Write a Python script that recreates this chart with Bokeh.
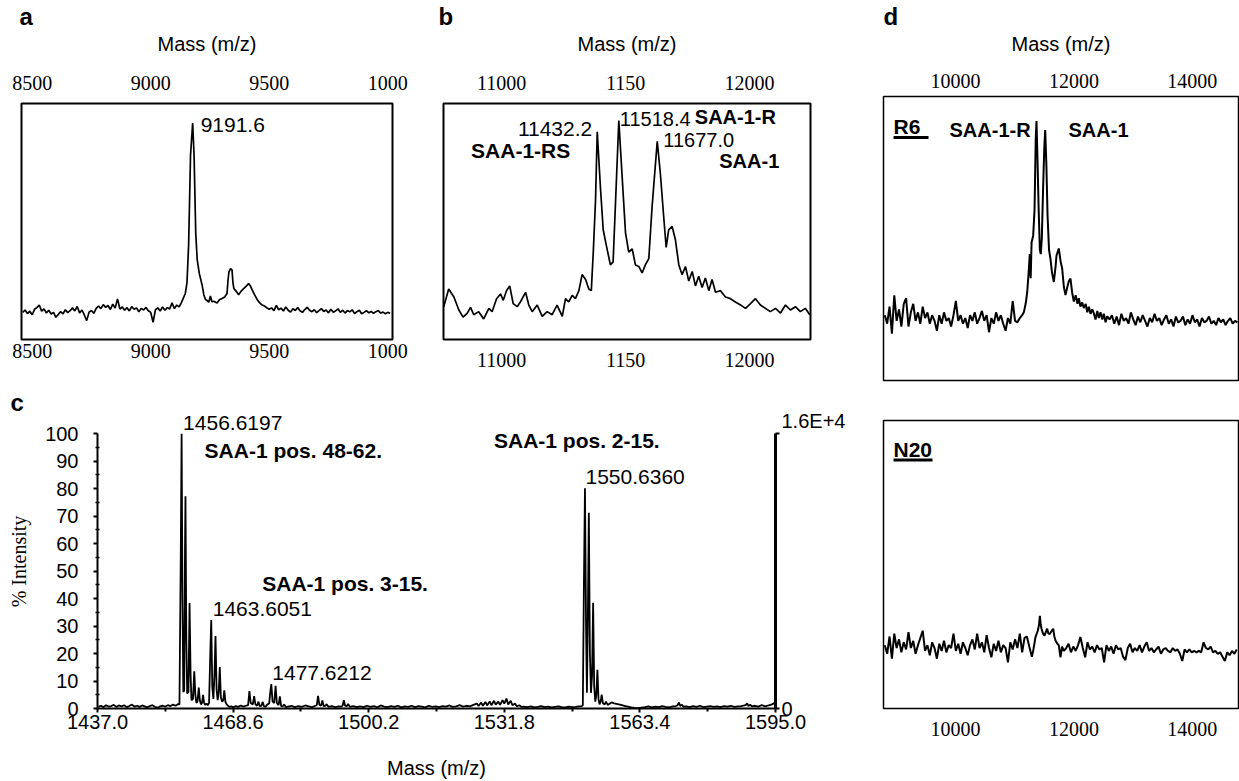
from bokeh.plotting import figure
from bokeh.models import Range1d, LinearAxis, FixedTicker, Label, BoxAnnotation, PrintfTickFormatter
from bokeh.layouts import row, column
from bokeh.embed import file_html
from bokeh.resources import INLINE

SANS = "Liberation Sans"
SERIF = "Liberation Serif"

# ---------------- panel a ----------------
A_XTICKS = [8500, 9000, 9500, 10000]
A_XTICK_TEXT = {10000: "1000"}
A_XRANGE = (8455, 10020)
A_BASE_LEFT_START, A_BASE_STEP = 8460, 10
A_BASE_LEFT = [11.5, 12.5, 11, 12, 10.5, 12.8, 13.5, 14.6, 12, 13,
               11.2, 12.4, 10.8, 11.5, 9.4, 10.6, 11.8, 10.9, 12.6, 11.4,
               12.2, 13.4, 12.1, 14, 11.3, 12.5, 10.4, 8, 11.6, 12.3,
               11.1, 13.2, 14.2, 13.1, 14.8, 13.6, 14.4, 12.7, 15, 13.3,
               17.2, 12.9, 13.8, 12.4, 13.5, 12.1, 13.9, 12.8, 13.4, 11.7,
               13.2, 12.5, 13.6, 12.2, 11.5, 7.3, 12.6, 13.4, 12.1, 13.8,
               12.4, 13.5, 12.9, 15.5, 13.1, 14.6, 13.8, 15.7]
A_PEAK = [(9146, 19.5), (9153, 24), (9160, 40), (9168, 78), (9177, 91.7), (9183, 78), (9190, 45),
          (9196, 34), (9205, 28), (9217, 23), (9224, 19), (9231, 17), (9238, 16.5), (9245, 15.8),
          (9252, 18.5), (9258, 16), (9266, 16.2), (9280, 15.5), (9290, 16.8), (9301, 17.4), (9312, 18),
          (9322, 19.5), (9326, 25), (9330, 28.6), (9337, 30), (9343, 29.5), (9347, 24), (9351, 21.6),
          (9360, 20.5), (9371, 19), (9382, 20.5), (9392, 21.6), (9402, 22.5), (9413, 23.7), (9420, 22.8),
          (9428, 21), (9438, 19), (9449, 17), (9460, 15.5), (9470, 14.6), (9480, 14.2), (9491, 13.3)]
A_BASE_RIGHT_START = 9500
A_BASE_RIGHT = [12.8, 13.4, 12.2, 14.5, 12.6, 13.3, 12.1, 13.8, 12.4, 11.6,
                13.0, 12.3, 13.5, 12.2, 11.5, 12.7, 13.6, 12.4, 11.8, 12.6,
                11.4, 12.2, 13.1, 11.9, 12.5, 11.3, 12.8, 11.6, 12.1, 13.0,
                11.5, 12.4, 11.2, 12.3, 11.7, 12.6, 11.0, 11.8, 12.4, 10.9,
                11.5, 12.2, 11.3, 11.9, 11.1, 11.8, 12.3, 11.2, 11.6, 10.9,
                11.5, 11.1]
A_PEAK_LABEL = ("9191.6", 9177, 91.7)

# ---------------- panel b ----------------
B_XTICKS = [11000, 11500, 12000]
B_XTICK_TEXT = {11500: "1150"}
B_XRANGE = (10766, 12246)
B_SPEC = [(10767, 13.9), (10787, 21.4), (10808, 18.0), (10828, 12.5), (10845, 9.5), (10862, 11.2),
          (10875, 13.6), (10888, 10.5), (10908, 11.8), (10928, 8.7), (10949, 13.2), (10962, 11.8),
          (10980, 17.3), (10996, 19.3), (11007, 16.6), (11020, 20.7), (11033, 22.7), (11047, 15.2),
          (11063, 13.9), (11076, 15.9), (11097, 20.0), (11110, 14.6), (11124, 11.8), (11144, 14.6),
          (11164, 9.8), (11184, 11.8), (11204, 10.5), (11224, 14.6), (11245, 9.8), (11258, 17.3),
          (11271, 15.9), (11285, 18.7), (11298, 17.3), (11312, 20.7), (11325, 27.5), (11339, 25.4),
          (11352, 21.4), (11362, 20.7), (11370, 37.0), (11379, 58.8), (11386, 88.0), (11399, 64.2),
          (11410, 46.5), (11423, 39.7), (11439, 31.6), (11450, 32.9), (11460, 58.8), (11473, 92.8),
          (11486, 69.7), (11500, 45.2), (11513, 37.0), (11527, 38.4), (11540, 31.6), (11554, 30.9),
          (11567, 28.2), (11580, 31.6), (11594, 34.3), (11607, 56.0), (11628, 84.0), (11641, 69.7),
          (11654, 52.0), (11664, 39.0), (11674, 46.5), (11688, 47.9), (11701, 42.4), (11715, 31.6),
          (11728, 27.5), (11742, 30.9), (11755, 24.8), (11769, 28.8), (11782, 22.7), (11795, 26.8),
          (11809, 22.0), (11822, 26.1), (11836, 20.7), (11849, 25.4), (11863, 20.0), (11883, 20.7),
          (11903, 18.0), (11923, 17.3), (11943, 15.9), (11964, 14.6), (11984, 13.2), (12004, 15.2),
          (12024, 17.3), (12044, 14.6), (12064, 13.2), (12084, 11.8), (12105, 13.2), (12125, 11.2),
          (12145, 14.6), (12165, 12.5), (12185, 13.9), (12205, 11.8), (12225, 13.2), (12243, 10.5)]
# text, anchor mass, anchor intensity, bold
B_LABELS = [("11432.2", 11386, 88.0, False), ("11518.4", 11473, 92.8, False),
            ("11677.0", 11628, 84.0, False), ("SAA-1-R", 11473, 92.8, True),
            ("SAA-1", 11628, 84.0, True), ("SAA-1-RS", 11386, 88.0, True)]

# ---------------- panel c ----------------
C_XTICKS = [1437.0, 1468.6, 1500.2, 1531.8, 1563.4, 1595.0]
C_XMINOR = [1452.8, 1484.4, 1516.0, 1547.6, 1579.2]
C_YTICKS = [0, 10, 20, 30, 40, 50, 60, 70, 80, 90, 100]
C_YMINOR = [5, 15, 25, 35, 45, 55, 65, 75, 85, 95]
C_ABS_TICKS = [0, 16000]
C_ABS_TEXT = {16000: "1.6E+4\n"}
C_BASE1 = (1437.2, 0.6, [0.6, 1.0, 0.5, 1.2, 0.7, 0.9, 1.3, 0.6, 1.1, 0.8, 1.2, 0.5, 0.9, 1.4, 0.7, 1.0,
                         0.6, 1.1, 0.8, 0.4, 0.9, 1.2, 0.6, 0.3, 0.8, 1.0, 0.7, 1.2, 0.9, 1.4, 1.0, 1.6])
C_PEAKS1 = [(1456.1, 1.5), (1456.4, 55), (1456.6, 100), (1456.8, 40), (1457.0, 6), (1457.2, 6.5),
            (1457.4, 60), (1457.5, 77.2), (1457.7, 25), (1457.9, 5.5), (1458.2, 6), (1458.45, 38.4),
            (1458.7, 12), (1458.9, 3), (1459.25, 3.5), (1459.55, 13.5), (1459.8, 5), (1460.05, 2),
            (1460.3, 2.5), (1460.6, 7.6), (1460.85, 3), (1461.1, 1.5), (1461.35, 2), (1461.6, 5),
            (1461.85, 2), (1462.1, 1.3), (1462.4, 1.8), (1462.7, 1.2), (1463.0, 2.0), (1463.25, 18),
            (1463.5, 32.2), (1463.75, 8), (1464.0, 3.5), (1464.25, 12), (1464.5, 26.4), (1464.75, 7),
            (1465.0, 3), (1465.25, 6), (1465.5, 15.1), (1465.75, 4), (1466.05, 2.5), (1466.3, 3),
            (1466.55, 6.6), (1466.8, 2.5), (1467.1, 1.5), (1467.4, 1.0), (1467.7, 0.6), (1468.2, 0.8),
            (1468.6, 0.4), (1469.2, 0.9), (1469.8, 0.6), (1470.4, 1.1), (1471.0, 0.7), (1471.6, 1.0),
            (1472.1, 1.2), (1472.4, 6.3), (1472.7, 2.0), (1473.2, 1.5), (1473.5, 4.5), (1473.8, 1.5),
            (1474.2, 1.0), (1474.5, 2.5), (1474.8, 0.9), (1475.2, 1.0), (1475.5, 2.4), (1475.8, 0.8),
            (1476.2, 0.7), (1476.6, 1.5), (1477.0, 1.8), (1477.3, 6.5), (1477.5, 8.9), (1477.8, 2.5),
            (1478.2, 2.0), (1478.5, 8.3), (1478.8, 2.0), (1479.2, 1.2), (1479.5, 4.4), (1479.8, 0.9),
            (1480.2, 0.8), (1480.5, 1.5), (1480.9, 0.5)]
C_BASE2 = (1481.4, 0.8, [0.7, 1.0, 0.5, 0.9, 0.6, 1.1, 0.8, 0.5, 1.0])
C_PEAKS2 = [(1488.1, 1.2), (1488.4, 4.6), (1488.7, 1.4), (1489.1, 1.0), (1489.4, 2.9), (1489.7, 0.9),
            (1490.1, 1.0), (1490.4, 1.6), (1490.8, 0.6), (1491.6, 0.9), (1492.4, 0.5), (1493.2, 0.8),
            (1493.9, 0.7), (1494.15, 1.2), (1494.4, 3.0), (1494.7, 1.0), (1495.1, 0.8), (1495.4, 1.7),
            (1495.8, 0.6), (1496.6, 0.9), (1497.4, 0.5)]
C_BASE3 = (1498.2, 0.8, [0.8, 0.5, 1.0, 0.6, 0.9, 0.4, 1.1, 0.7, 0.5, 0.9, 0.6, 1.0, 0.4, 0.8, 0.6, 1.0, 0.5,
                         0.9, 0.7, 0.4, 1.0, 0.6, 0.8, 0.5, 0.9, 0.7, 1.1, 0.6, 0.8, 1.2, 0.7, 1.0, 0.8, 1.3])
C_PEAKS3 = [(1525.4, 1.8), (1525.8, 0.9), (1526.4, 2.2), (1526.8, 1.0), (1527.4, 2.4), (1527.8, 1.1),
            (1528.4, 2.6), (1528.8, 1.2), (1529.4, 2.8), (1529.8, 1.4), (1530.4, 2.5), (1530.8, 1.3),
            (1531.4, 3.0), (1531.8, 1.8), (1532.3, 3.6), (1532.7, 1.5), (1533.3, 2.8), (1533.7, 1.2),
            (1534.3, 1.8), (1534.7, 0.8), (1535.3, 1.2), (1535.8, 0.6)]
C_BASE4 = (1536.4, 0.8, [0.7, 0.5, 0.8, 0.4, 0.6, 0.9, 0.5, 0.7, 0.4, 0.6, 0.8, 0.5, 0.4, 0.7, 0.5, 0.6, 0.8])
C_PEAKS4 = [(1549.8, 0.8), (1550.1, 1.2), (1550.35, 45), (1550.6, 80.2), (1550.85, 30), (1551.05, 5.7),
            (1551.25, 30), (1551.5, 71.2), (1551.75, 20), (1552.0, 5.7), (1552.25, 12), (1552.5, 38.5),
            (1552.75, 8), (1553.0, 2.5), (1553.25, 5), (1553.5, 14.1), (1553.75, 3.5), (1554.0, 1.5),
            (1554.25, 2.5), (1554.5, 5), (1554.8, 1.8), (1555.2, 1.5), (1555.5, 2.5), (1555.9, 1.3),
            (1556.4, 1.8), (1556.8, 2.2), (1557.4, 1.9), (1558.2, 1.6), (1559.0, 1.3), (1559.8, 1.0),
            (1560.6, 0.7), (1561.4, 0.4), (1562.2, 0.2), (1563.0, 0.1), (1563.8, 0.3)]
C_BASE5 = (1564.6, 0.8, [0.5, 0.8, 0.4, 0.7, 0.5, 0.9, 0.6, 0.4, 0.8, 0.9])
C_PEAKS5 = [(1572.2, 1.2), (1572.5, 2.2), (1572.8, 0.9), (1573.2, 1.4), (1573.5, 0.7)]
C_BASE6 = (1574.2, 0.8, [0.8, 0.5, 0.9, 0.6, 1.0, 0.5, 0.7, 0.9, 0.6, 0.8, 0.5, 0.9, 0.7, 1.0, 0.6, 0.8, 0.9, 1.1])
C_PEAKS6 = [(1588.1, 1.3), (1588.4, 1.9), (1588.7, 0.9), (1589.1, 1.4), (1589.5, 0.8)]
C_BASE7 = (1590.2, 0.8, [1.0, 0.7, 1.2, 0.8, 1.1, 1.5])
C_PEAKS7 = [(1594.7, 2.0), (1595.0, 1.2)]
# text, anchor m/z, anchor % intensity, bold
C_LABELS = [("1456.6197", 1456.6, 100, False), ("SAA-1 pos. 48-62.", 1456.6, 100, True),
            ("1463.6051", 1463.5, 32.2, False), ("SAA-1 pos. 3-15.", 1463.5, 32.2, True),
            ("1477.6212", 1477.5, 8.9, False), ("SAA-1 pos. 2-15.", 1550.6, 80.2, True),
            ("1550.6360", 1550.6, 80.2, False)]

# ---------------- panel d ----------------
D_XTICKS = [10000, 12000, 14000]
D_XRANGE = (8784, 14780)
D1_BASE_LEFT = (8806, 40, [23, 20, 26, 16.5, 30, 21, 25, 19, 27, 29, 19, 24, 27, 21, 24, 20, 26, 22, 24, 20,
                           23, 21, 17.5, 23, 20, 24, 21, 22, 19, 23, 28, 21, 23, 20, 22, 18.5, 23, 21, 24, 20,
                           22, 24.5, 21, 23, 17, 22, 20, 24, 21, 23, 20, 17.5, 22, 20, 28, 21, 20.5, 22, 23])
D1_PEAK = [(11154, 24), (11185, 27), (11211, 31), (11235, 38), (11255, 44.5), (11270, 36), (11285, 48.6),
           (11312, 51), (11335, 60), (11355, 85), (11368, 91.4), (11385, 78), (11405, 60), (11425, 46),
           (11440, 44.5), (11458, 50), (11480, 68), (11500, 82), (11515, 88.2), (11535, 76), (11555, 58),
           (11580, 46), (11604, 42.8), (11630, 38), (11661, 34.7), (11690, 40), (11706, 44), (11745, 46.5),
           (11775, 42), (11802, 39.4), (11830, 33), (11858, 30.1), (11890, 33), (11915, 35), (11942, 35.9),
           (11970, 31), (11998, 27.8), (12030, 30), (12060, 27), (12083, 29), (12110, 26), (12140, 27.5),
           (12167, 25.5), (12200, 27), (12225, 24), (12252, 26), (12280, 23.5), (12310, 25), (12336, 23.7),
           (12365, 21.5), (12395, 24.5), (12420, 22), (12449, 24), (12480, 21.5), (12505, 23.5),
           (12535, 20.5), (12562, 22.6)]
D1_BASE_RIGHT = (12602, 40, [21.5, 23, 20, 22.5, 19.5, 23.5, 21, 22, 20, 24, 21.5, 19.5, 22.5, 20.5, 23, 21,
                             19, 22, 20.5, 23.5, 21, 22, 19.5, 21.5, 23, 20, 21.5, 19, 22.5, 20.5, 21, 22.5,
                             19.5, 21.5, 20, 23, 20.5, 21.5, 19, 22, 20.5, 21, 22.5, 20, 21, 19.5, 22, 20.5,
                             21.5, 19.5, 21, 22, 20, 21, 20.5])
D2_BASE_LEFT = (8806, 40, [22, 19, 25, 17.3, 26, 21, 24, 19.5, 23, 20.5, 26.5, 21, 23.5, 19, 22, 24.5, 27, 20,
                           22, 18.5, 23, 21, 17.3, 22.5, 20, 23.5, 19.5, 22, 21, 26, 20, 22.5, 19, 23, 21, 18.5,
                           22, 24, 20.5, 26, 21, 23, 19.5, 25.5, 21, 17.8, 22.5, 20, 23.5, 19.5, 22, 21, 16, 23,
                           20.5, 24, 21, 26, 19.5, 24.5, 25, 21.5])
D2_PEAK = [(11290, 18), (11312, 20), (11351, 24.8), (11390, 27), (11410, 29), (11425, 32.2), (11440, 29),
           (11453, 27.7), (11478, 26), (11503, 25.3), (11525, 26.5), (11548, 27.7), (11570, 26), (11593, 25.9),
           (11620, 26.8), (11650, 27.7), (11670, 25), (11689, 23.6), (11720, 22.5), (11745, 21.9),
           (11773, 17.8), (11800, 21.5), (11830, 20)]
D2_BASE_RIGHT = (11870, 40, [21, 22.5, 19.5, 21.5, 20, 22, 24.8, 21, 17.8, 23, 20.5, 21.5, 19.5, 22, 20.5, 21,
                             16, 22, 20, 21.5, 19, 22, 20.5, 21, 18, 16.8, 21, 22.5, 19.5, 21, 20, 22, 19.5, 21.5,
                             23, 20, 21, 19.5, 20.5, 21.5, 19, 20.5, 21, 20, 19.5, 21, 20, 20.5, 19, 16.5, 20.5,
                             19.5, 20.5, 19.5, 20, 19.5, 20, 19.5, 23, 21, 20.5, 21.5, 19.5, 20, 19, 19.5, 18,
                             16.5, 19.5, 18.5, 20, 19, 20.5])
D_SAMPLES = ["R6", "N20"]
D_PEAK_NAMES = ["SAA-1-R", "SAA-1"]
PANEL_LETTERS = ["a", "b", "c", "d"]


# ---------------- helpers ----------------
def seg(spec):
    start, step, vals = spec
    return [(start + step * i, v) for i, v in enumerate(vals)]


def unzip(pairs):
    return [p[0] for p in pairs], [p[1] for p in pairs]


def base_fig(width, height, xr, borders, ymax=100, letter=None, letter_offset=0, **kw):
    l, r, t, b = borders
    p = figure(width=width, height=height, x_range=Range1d(*xr), y_range=Range1d(0, ymax),
               output_backend="svg", toolbar_location=None,
               min_border_left=l, min_border_right=r, min_border_top=t, min_border_bottom=b,
               title=letter, **kw)
    p.grid.visible = False
    p.background_fill_color = "white"
    p.border_fill_color = "white"
    if letter:
        p.title.text_font = SANS
        p.title.text_font_size = "24px"
        p.title.text_font_style = "bold"
        p.title.text_color = "black"
        p.title.align = "left"
        p.title.offset = letter_offset
        p.title.standoff = 0
    return p


def style_plain_axis(ax, ticks, overrides=None, standoff=4, label=None, label_standoff=14):
    ax.ticker = FixedTicker(ticks=ticks)
    if overrides:
        ax.major_label_overrides = overrides
    ax.axis_line_color = None
    ax.major_tick_line_color = None
    ax.minor_tick_line_color = None
    ax.major_tick_out = 0
    ax.major_tick_in = 0
    ax.minor_tick_out = 0
    ax.minor_tick_in = 0
    ax.major_label_text_font = SERIF
    ax.major_label_text_font_size = "20px"
    ax.major_label_text_color = "black"
    ax.major_label_standoff = standoff
    if label:
        ax.axis_label = label
        ax.axis_label_text_font = SANS
        ax.axis_label_text_font_size = "20px"
        ax.axis_label_text_font_style = "normal"
        ax.axis_label_text_color = "black"
        ax.axis_label_standoff = label_standoff


def dlabel(p, x, y, text, dx, dy, size="21px", bold=False, align="left"):
    # dy: offset (px, up) of the text's vertical centre from the anchor
    p.add_layout(Label(x=x, y=y, x_offset=dx, y_offset=dy, text=text, text_font=SANS,
                       text_font_size=size, text_font_style="bold" if bold else "normal",
                       text_align=align, text_baseline="middle", text_color="black"))


class PageMap:
    """maps a pixel position of the layout to the data space of one frame"""
    def __init__(self, frame_left, frame_bottom, frame_w, frame_h, xr, ymax=100):
        self.fl, self.fb, self.fw, self.fh, self.xr, self.ymax = frame_left, frame_bottom, frame_w, frame_h, xr, ymax

    def x(self, X):
        return self.xr[0] + (X - self.fl) * (self.xr[1] - self.xr[0]) / self.fw

    def y(self, Y):
        return (self.fb - Y) / self.fh * self.ymax


def plabel(p, pm, X, Y, text, size="21px", bold=True):
    p.add_layout(Label(x=pm.x(X), y=pm.y(Y), text=text, text_font=SANS, text_font_size=size,
                       text_font_style="bold" if bold else "normal",
                       text_align="left", text_baseline="middle", text_color="black"))


def underline(p, pm, X0, X1, Y0, Y1):
    p.add_layout(BoxAnnotation(left=pm.x(X0), right=pm.x(X1), top=pm.y(Y0), bottom=pm.y(Y1),
                               fill_color="black", fill_alpha=1.0, line_color=None))


# ---------------- panel a ----------------
pa = base_fig(424, 373, A_XRANGE, (21, 32, 98, 34), y_axis_location=None,
              letter=PANEL_LETTERS[0], letter_offset=-2)
pa.outline_line_color = "black"
pa.outline_line_width = 2
top_a = LinearAxis()
pa.add_layout(top_a, "above")
style_plain_axis(top_a, A_XTICKS, A_XTICK_TEXT, standoff=14, label="Mass (m/z)", label_standoff=18)
style_plain_axis(pa.below[0], A_XTICKS, A_XTICK_TEXT, standoff=4)
ax_, ay_ = unzip(seg((A_BASE_LEFT_START, A_BASE_STEP, A_BASE_LEFT)) + A_PEAK
                 + seg((A_BASE_RIGHT_START, A_BASE_STEP, A_BASE_RIGHT)))
pa.line(ax_, ay_, line_color="black", line_width=1.7)
dlabel(pa, A_PEAK_LABEL[1], A_PEAK_LABEL[2], A_PEAK_LABEL[0], 8, -1.5)

# ---------------- panel b ----------------
pb = base_fig(424, 373, B_XRANGE, (19, 38, 99, 29), y_axis_location=None,
              letter=PANEL_LETTERS[1], letter_offset=-5)
pb.outline_line_color = "black"
pb.outline_line_width = 2
top_b = LinearAxis()
pb.add_layout(top_b, "above")
style_plain_axis(top_b, B_XTICKS, B_XTICK_TEXT, standoff=14, label="Mass (m/z)", label_standoff=18)
style_plain_axis(pb.below[0], B_XTICKS, B_XTICK_TEXT, standoff=13)
bx_, by_ = unzip(B_SPEC)
pb.line(bx_, by_, line_color="black", line_width=1.7)
B_OFFSETS = [(-5, 2.8, "right", "21px"), (1, 1.7, "left", "20px"), (6, 0.8, "left", "20px"),
             (76, 3.2, "left", "20px"), (62, -20.2, "left", "20px"), (-27, -18.2, "right", "21px")]
for (txt, mx, iy, bold), (dx, dy, al, sz) in zip(B_LABELS, B_OFFSETS):
    dlabel(pb, mx, iy, txt, dx, dy, size=sz, bold=bold, align=al)

# ---------------- panel c ----------------
C_YMAX = 107
pc = base_fig(848, 408, (1437.0, 1595.0), (97, 68, 41, 71), ymax=C_YMAX,
              letter=PANEL_LETTERS[2], letter_offset=-87)
pc.title.standoff = -3
pc.outline_line_color = None
pc.extra_y_ranges = {"abs": Range1d(0, 16000 * C_YMAX / 100)}
yl = pc.left[0]
yl.ticker = FixedTicker(ticks=C_YTICKS, minor_ticks=C_YMINOR)
yl.bounds = (0, 100)
yl.axis_line_width = 2
yl.major_tick_line_width = 2
yl.minor_tick_line_width = 1.5
yl.major_tick_out, yl.major_tick_in = 4, 0
yl.minor_tick_out, yl.minor_tick_in = 2, 2
yl.major_label_text_font = SANS
yl.major_label_text_font_size = "20px"
yl.major_label_text_color = "black"
yl.major_label_standoff = 15
yl.axis_label = "% Intensity"
yl.axis_label_text_font = SERIF
yl.axis_label_text_font_size = "20px"
yl.axis_label_text_font_style = "normal"
yl.axis_label_text_color = "black"
yl.axis_label_standoff = 12

xb = pc.below[0]
xb.ticker = FixedTicker(ticks=C_XTICKS, minor_ticks=C_XMINOR)
xb.formatter = PrintfTickFormatter(format="%.1f")
xb.axis_line_width = 2
xb.major_tick_line_width = 2
xb.minor_tick_line_width = 2
xb.major_tick_out, xb.major_tick_in = 4, 0
xb.minor_tick_out, xb.minor_tick_in = 3, 0
xb.major_label_text_font = SANS
xb.major_label_text_font_size = "20px"
xb.major_label_text_color = "black"
xb.major_label_standoff = 2
xb.axis_label = "Mass (m/z)"
xb.axis_label_text_font = SANS
xb.axis_label_text_font_size = "20px"
xb.axis_label_text_font_style = "normal"
xb.axis_label_text_color = "black"
xb.axis_label_standoff = 25

yr = LinearAxis(y_range_name="abs", ticker=FixedTicker(ticks=C_ABS_TICKS),
                major_label_overrides=C_ABS_TEXT, bounds=(0, 16000))
yr.axis_line_width = 3
yr.major_tick_line_width = 2
yr.major_tick_out, yr.major_tick_in = 4, 0
yr.minor_tick_line_color = None
yr.major_label_text_font = SANS
yr.major_label_text_font_size = "20px"
yr.major_label_text_color = "black"
yr.major_label_standoff = 2
pc.add_layout(yr, "right")

c_pairs = (seg(C_BASE1) + C_PEAKS1 + seg(C_BASE2) + C_PEAKS2 + seg(C_BASE3) + C_PEAKS3
           + seg(C_BASE4) + C_PEAKS4 + seg(C_BASE5) + C_PEAKS5 + seg(C_BASE6) + C_PEAKS6
           + seg(C_BASE7) + C_PEAKS7)
cx_, cy_ = unzip(c_pairs)
pc.line(cx_, cy_, line_color="black", line_width=1.8)
C_OFFSETS = [(1.5, 10.4), (23, -17.1), (1.5, 11.5), (51, 36.5), (1, 10.9), (-91, 47.7), (0.5, 10.7)]
for (txt, mx, iy, bold), (dx, dy) in zip(C_LABELS, C_OFFSETS):
    dlabel(pc, mx, iy, txt, dx, dy, bold=bold)

# ---------------- panel d ----------------
pd1 = base_fig(391, 400, D_XRANGE, (35, 1, 92, 20), x_axis_location="above", y_axis_location=None,
               letter=PANEL_LETTERS[3], letter_offset=0)
pd1.outline_line_color = "black"
pd1.outline_line_width = 1.5
style_plain_axis(pd1.above[0], D_XTICKS, standoff=9, label="Mass (m/z)", label_standoff=16)
d1x, d1y = unzip(seg(D1_BASE_LEFT) + D1_PEAK + seg(D1_BASE_RIGHT))
pd1.line(d1x, d1y, line_color="black", line_width=2.0)
PM1 = PageMap(883, 380, 355, 288, D_XRANGE)
plabel(pd1, PM1, 893, 122.5, D_SAMPLES[0])
underline(pd1, PM1, 893, 928, 132, 135)
plabel(pd1, PM1, 949, 125.5, D_PEAK_NAMES[0], size="20px")
plabel(pd1, PM1, 1068, 125.5, D_PEAK_NAMES[1], size="20px")

pd2 = base_fig(391, 381, D_XRANGE, (35, 1, 20, 73), y_axis_location=None)
pd2.outline_line_color = "black"
pd2.outline_line_width = 1.5
style_plain_axis(pd2.below[0], D_XTICKS, standoff=13)
d2x, d2y = unzip(seg(D2_BASE_LEFT) + D2_PEAK + seg(D2_BASE_RIGHT))
pd2.line(d2x, d2y, line_color="black", line_width=2.0)
PM2 = PageMap(883, 708, 355, 288, D_XRANGE)
plabel(pd2, PM2, 893, 449, D_SAMPLES[1])
underline(pd2, PM2, 893, 932, 458, 461)

layout = row(column(row(pa, pb, spacing=0), pc, spacing=0), column(pd1, pd2, spacing=0), spacing=0)

open("out.html", "w").write(file_html(layout, INLINE))
